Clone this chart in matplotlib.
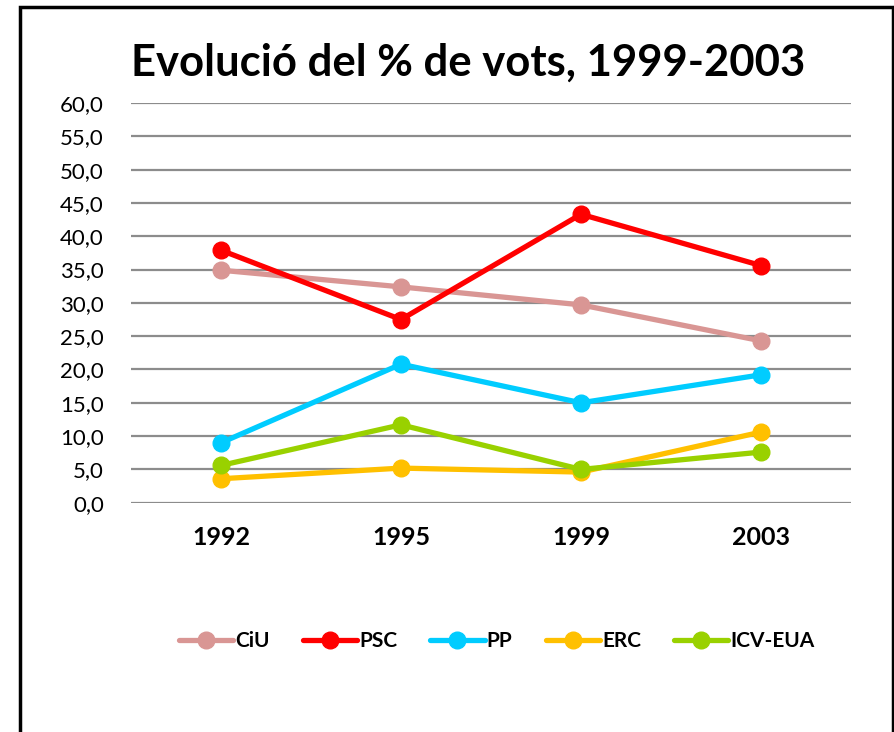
import matplotlib.pyplot as plt
from matplotlib.patches import Rectangle
from matplotlib.ticker import FuncFormatter, MultipleLocator

years = ['1992', '1995', '1999', '2003']
parties = ['CiU', 'PSC', 'PP', 'ERC', 'ICV-EUA']
ciu = [34.9, 32.4, 29.7, 24.3]
psc = [37.9, 27.5, 43.3, 35.6]
pp = [9.0, 20.8, 15.0, 19.2]
erc = [3.6, 5.2, 4.6, 10.6]
icv = [5.6, 11.7, 5.0, 7.6]
colors = ['#D99694', '#FF0000', '#00CCFF', '#FFC000', '#99D100']

plt.rcParams['font.family'] = ['Lato', 'DejaVu Sans']

fig = plt.figure(figsize=(8.95, 7.32), dpi=100)
ax = fig.add_axes([0.1464, 0.3132, 0.9508 - 0.1464, 0.8593 - 0.3132])

x = range(len(years))
for vals, name, c in zip([ciu, psc, pp, erc, icv], parties, colors):
    ax.plot(x, vals, color=c, lw=3.8, marker='o', ms=12, label=name,
            solid_capstyle='round')

ax.set_xlim(-0.5, 3.5)
ax.set_ylim(0, 60)
ax.yaxis.set_major_locator(MultipleLocator(5))
ax.yaxis.set_major_formatter(FuncFormatter(lambda v, p: f'{v:.1f}'.replace('.', ',')))
ax.set_xticks(list(x))
ax.set_xticklabels(years, fontweight='bold', fontsize=18)
ax.tick_params(axis='y', labelsize=16, length=0, pad=19.5)
ax.tick_params(axis='x', length=0, pad=17)
ax.grid(axis='y', color='#8c8c8c', lw=1.6)
ax.set_axisbelow(True)
for s in ax.spines.values():
    s.set_visible(False)

fig.text(0.523, 0.915, 'Evolució del % de vots, 1999-2003', ha='center', va='center',
         fontsize=31.4, fontweight='bold')

leg = fig.legend(loc='center', bbox_to_anchor=(0.555, 0.124), ncol=5, frameon=False,
                 prop={'weight': 'bold', 'size': 15}, handlelength=2.6,
                 columnspacing=1.6, handletextpad=0.1)

fig.patches.append(Rectangle((0.0223, -0.02), 0.9978 - 0.0223, 0.9904 + 0.02,
                             transform=fig.transFigure, fill=False, ec='black', lw=2.5))

fig.savefig('out.png', dpi=100)
